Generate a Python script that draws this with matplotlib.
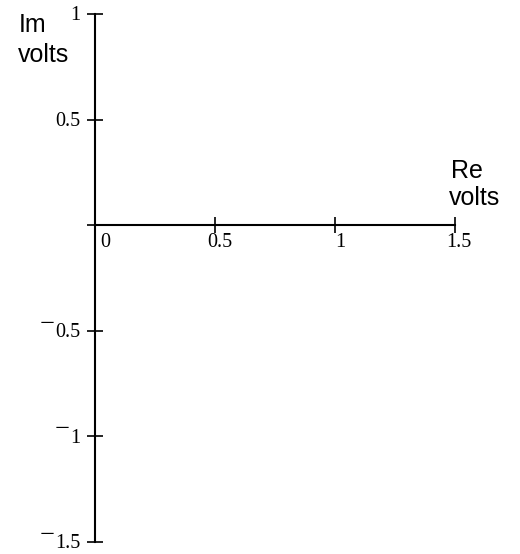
import matplotlib
matplotlib.use("Agg")
import matplotlib.pyplot as plt
from matplotlib.transforms import offset_copy

# data / ticks
x_ticks = [0, 0.5, 1, 1.5]
x_tick_labels = ["0", "0.5", "1", "1.5"]
y_ticks = [1, 0.5, 0, -0.5, -1, -1.5]
y_tick_labels = ["1", "0.5", "", "\u22120.5", "\u22121", "\u22121.5"]
x_range = (0, 1.5)
y_range = (-1.5, 1)
x_label = ["Re", "volts"]
y_label = ["Im", "volts"]

W, H = 520, 554
fig = plt.figure(figsize=(W / 100, H / 100), dpi=100)
left, right = 95 / W, 455 / W
top, bottom = 1 - 14 / H, 1 - 542 / H
ax = fig.add_axes([left, bottom, right - left, top - bottom])
ax.set_xlim(*x_range)
ax.set_ylim(*y_range)
ax.patch.set_alpha(0)

for s in ["top", "right"]:
    ax.spines[s].set_visible(False)
ax.spines["bottom"].set_position(("data", 0))
ax.spines["left"].set_position(("data", 0))
for s in ["bottom", "left"]:
    ax.spines[s].set_linewidth(1.5)
    ax.spines[s].set_color("black")

ax.set_xticks(x_ticks)
ax.set_yticks(y_ticks)
ax.tick_params(direction="inout", length=11.5, width=1.2, colors="black",
               labelbottom=False, labelleft=False)

serif = ["Liberation Serif", "DejaVu Serif"]
sans = ["Liberation Sans", "DejaVu Sans"]
FS = 14.5

# x tick labels (placed slightly right of / below ticks)
x_dx = [10, 5, 5, 4]
for t, lab, dx in zip(x_ticks, x_tick_labels, x_dx):
    tr = offset_copy(ax.transData, fig=fig, x=dx * 0.72, y=-8 * 0.72, units="points")
    ax.text(t, 0, lab, transform=tr, ha="center", va="top",
            fontsize=FS, family=serif)

# y tick labels, with a raised minus sign as in the reference
renderer = fig.canvas.get_renderer()
for t, lab in zip(y_ticks, y_tick_labels):
    if not lab:
        continue
    neg = lab.startswith("\u2212")
    body = lab[1:] if neg else lab
    tr = offset_copy(ax.transData, fig=fig, x=-15 * 0.72, y=-2 * 0.72, units="points")
    txt = ax.text(0, t, body, transform=tr, ha="right", va="center",
                  fontsize=FS, family=serif)
    if neg:
        wpx = txt.get_window_extent(renderer).width
        tr2 = offset_copy(ax.transData, fig=fig, x=(-15 - wpx - 0.5) * 0.72,
                          y=6 * 0.72, units="points")
        ax.text(0, t, "\u2212", transform=tr2, ha="right", va="center",
                fontsize=19, family=serif)

# axis labels (two lines each)
fig.text(19 / W, 1 - 32 / H, y_label[0], ha="left", va="baseline", fontsize=18, family=sans)
fig.text(18 / W, 1 - 62 / H, y_label[1], ha="left", va="baseline", fontsize=18, family=sans)
fig.text(451 / W, 1 - 178 / H, x_label[0], ha="left", va="baseline", fontsize=18, family=sans)
fig.text(449 / W, 1 - 205 / H, x_label[1], ha="left", va="baseline", fontsize=18, family=sans)

fig.savefig("out.png", dpi=100)
